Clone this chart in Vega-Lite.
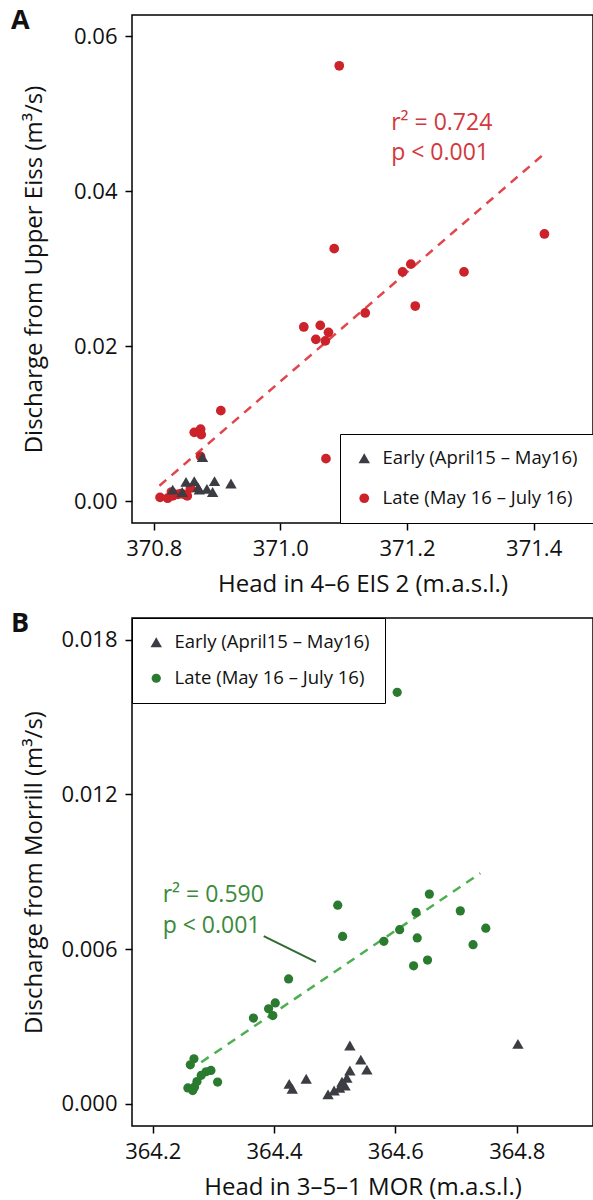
{
  "$schema": "https://vega.github.io/schema/vega-lite/v6.json",
  "background": "white",
  "padding": {"left": 10, "top": 6, "right": 0, "bottom": 0},
  "spacing": 11,
  "config": {
    "font": "Open Sans",
    "view": {"stroke": "black", "strokeWidth": 1.5},
    "axis": {
      "domain": false, "grid": false,
      "tickColor": "black", "tickSize": 7, "tickWidth": 1.5,
      "labelColor": "#111111", "labelFontSize": 22, "labelPadding": 8, "labelFont": "Open Sans",
      "titleColor": "#111111", "titleFontSize": 24, "titleFontWeight": "normal", "titleFont": "Open Sans"
    },
    "axisY": {"minExtent": 70, "maxExtent": 70, "titlePadding": 16},
    "axisX": {"titlePadding": 13},
    "legend": {
      "labelFont": "Open Sans", "labelFontSize": 18.5, "labelColor": "#111111", "labelLimit": 400,
      "padding": 15, "labelOffset": 9, "symbolSize": 110,
      "fillColor": "white", "strokeColor": "black", "offset": 0, "cornerRadius": 0,
      "symbolStrokeWidth": 0, "symbolOpacity": 1
    }
  },
  "datasets": {
    "eiss": [
      {"head": 371.093, "discharge": 0.0562, "period": "Late (May 16 – July 16)"},
      {"head": 371.085, "discharge": 0.0326, "period": "Late (May 16 – July 16)"},
      {"head": 371.417, "discharge": 0.0345, "period": "Late (May 16 – July 16)"},
      {"head": 371.193, "discharge": 0.0296, "period": "Late (May 16 – July 16)"},
      {"head": 371.206, "discharge": 0.0306, "period": "Late (May 16 – July 16)"},
      {"head": 371.290, "discharge": 0.0296, "period": "Late (May 16 – July 16)"},
      {"head": 371.213, "discharge": 0.0252, "period": "Late (May 16 – July 16)"},
      {"head": 371.134, "discharge": 0.0243, "period": "Late (May 16 – July 16)"},
      {"head": 371.037, "discharge": 0.0225, "period": "Late (May 16 – July 16)"},
      {"head": 371.063, "discharge": 0.0227, "period": "Late (May 16 – July 16)"},
      {"head": 371.076, "discharge": 0.0218, "period": "Late (May 16 – July 16)"},
      {"head": 371.056, "discharge": 0.0209, "period": "Late (May 16 – July 16)"},
      {"head": 371.071, "discharge": 0.0207, "period": "Late (May 16 – July 16)"},
      {"head": 370.906, "discharge": 0.0117, "period": "Late (May 16 – July 16)"},
      {"head": 370.864, "discharge": 0.0089, "period": "Late (May 16 – July 16)"},
      {"head": 370.874, "discharge": 0.0093, "period": "Late (May 16 – July 16)"},
      {"head": 370.875, "discharge": 0.0086, "period": "Late (May 16 – July 16)"},
      {"head": 371.072, "discharge": 0.0055, "period": "Late (May 16 – July 16)"},
      {"head": 370.874, "discharge": 0.0058, "period": "Late (May 16 – July 16)"},
      {"head": 370.810, "discharge": 0.0005, "period": "Late (May 16 – July 16)"},
      {"head": 370.822, "discharge": 0.0004, "period": "Late (May 16 – July 16)"},
      {"head": 370.830, "discharge": 0.0007, "period": "Late (May 16 – July 16)"},
      {"head": 370.838, "discharge": 0.0009, "period": "Late (May 16 – July 16)"},
      {"head": 370.848, "discharge": 0.0009, "period": "Late (May 16 – July 16)"},
      {"head": 370.853, "discharge": 0.0007, "period": "Late (May 16 – July 16)"},
      {"head": 370.858, "discharge": 0.0017, "period": "Late (May 16 – July 16)"},
      {"head": 370.828, "discharge": 0.0012, "period": "Late (May 16 – July 16)"},
      {"head": 370.843, "discharge": 0.0010, "period": "Late (May 16 – July 16)"},
      {"head": 370.830, "discharge": 0.0015, "period": "Early (April15 – May16)"},
      {"head": 370.851, "discharge": 0.0025, "period": "Early (April15 – May16)"},
      {"head": 370.864, "discharge": 0.0026, "period": "Early (April15 – May16)"},
      {"head": 370.870, "discharge": 0.0018, "period": "Early (April15 – May16)"},
      {"head": 370.872, "discharge": 0.0015, "period": "Early (April15 – May16)"},
      {"head": 370.884, "discharge": 0.0016, "period": "Early (April15 – May16)"},
      {"head": 370.893, "discharge": 0.0012, "period": "Early (April15 – May16)"},
      {"head": 370.896, "discharge": 0.0026, "period": "Early (April15 – May16)"},
      {"head": 370.922, "discharge": 0.0023, "period": "Early (April15 – May16)"},
      {"head": 370.877, "discharge": 0.0057, "period": "Early (April15 – May16)"},
      {"head": 370.845, "discharge": 0.0012, "period": "Early (April15 – May16)"}
    ],
    "morrill": [
      {"head": 364.505, "discharge": 0.00770, "period": "Late (May 16 – July 16)"},
      {"head": 364.513, "discharge": 0.00649, "period": "Late (May 16 – July 16)"},
      {"head": 364.656, "discharge": 0.00813, "period": "Late (May 16 – July 16)"},
      {"head": 364.634, "discharge": 0.00742, "period": "Late (May 16 – July 16)"},
      {"head": 364.707, "discharge": 0.00748, "period": "Late (May 16 – July 16)"},
      {"head": 364.749, "discharge": 0.00681, "period": "Late (May 16 – July 16)"},
      {"head": 364.728, "discharge": 0.00617, "period": "Late (May 16 – July 16)"},
      {"head": 364.607, "discharge": 0.00675, "period": "Late (May 16 – July 16)"},
      {"head": 364.581, "discharge": 0.00630, "period": "Late (May 16 – July 16)"},
      {"head": 364.636, "discharge": 0.00643, "period": "Late (May 16 – July 16)"},
      {"head": 364.653, "discharge": 0.00557, "period": "Late (May 16 – July 16)"},
      {"head": 364.630, "discharge": 0.00535, "period": "Late (May 16 – July 16)"},
      {"head": 364.424, "discharge": 0.00484, "period": "Late (May 16 – July 16)"},
      {"head": 364.402, "discharge": 0.00391, "period": "Late (May 16 – July 16)"},
      {"head": 364.391, "discharge": 0.00368, "period": "Late (May 16 – July 16)"},
      {"head": 364.398, "discharge": 0.00342, "period": "Late (May 16 – July 16)"},
      {"head": 364.366, "discharge": 0.00332, "period": "Late (May 16 – July 16)"},
      {"head": 364.603, "discharge": 0.01596, "period": "Late (May 16 – July 16)"},
      {"head": 364.268, "discharge": 0.00174, "period": "Late (May 16 – July 16)"},
      {"head": 364.262, "discharge": 0.00151, "period": "Late (May 16 – July 16)"},
      {"head": 364.296, "discharge": 0.00129, "period": "Late (May 16 – July 16)"},
      {"head": 364.288, "discharge": 0.00124, "period": "Late (May 16 – July 16)"},
      {"head": 364.280, "discharge": 0.00110, "period": "Late (May 16 – July 16)"},
      {"head": 364.307, "discharge": 0.00084, "period": "Late (May 16 – July 16)"},
      {"head": 364.273, "discharge": 0.00086, "period": "Late (May 16 – July 16)"},
      {"head": 364.269, "discharge": 0.00065, "period": "Late (May 16 – July 16)"},
      {"head": 364.258, "discharge": 0.00061, "period": "Late (May 16 – July 16)"},
      {"head": 364.266, "discharge": 0.00051, "period": "Late (May 16 – July 16)"},
      {"head": 364.802, "discharge": 0.00232, "period": "Early (April15 – May16)"},
      {"head": 364.525, "discharge": 0.00226, "period": "Early (April15 – May16)"},
      {"head": 364.543, "discharge": 0.00171, "period": "Early (April15 – May16)"},
      {"head": 364.553, "discharge": 0.00132, "period": "Early (April15 – May16)"},
      {"head": 364.525, "discharge": 0.00129, "period": "Early (April15 – May16)"},
      {"head": 364.520, "discharge": 0.00100, "period": "Early (April15 – May16)"},
      {"head": 364.517, "discharge": 0.00070, "period": "Early (April15 – May16)"},
      {"head": 364.499, "discharge": 0.00051, "period": "Early (April15 – May16)"},
      {"head": 364.489, "discharge": 0.00036, "period": "Early (April15 – May16)"},
      {"head": 364.453, "discharge": 0.00097, "period": "Early (April15 – May16)"},
      {"head": 364.425, "discharge": 0.00077, "period": "Early (April15 – May16)"},
      {"head": 364.430, "discharge": 0.00058, "period": "Early (April15 – May16)"},
      {"head": 364.512, "discharge": 0.00085, "period": "Early (April15 – May16)"},
      {"head": 364.508, "discharge": 0.00062, "period": "Early (April15 – May16)"}
    ],
    "fitA": [
      {"head": 370.809, "discharge": 0.0020},
      {"head": 371.416, "discharge": 0.0448}
    ],
    "fitB": [
      {"head": 364.280, "discharge": 0.00161},
      {"head": 364.740, "discharge": 0.00894}
    ],
    "labA": [
      {"head": 371.175, "discharge": 0.0479, "label": "r² = 0.724"},
      {"head": 371.175, "discharge": 0.0441, "label": "p < 0.001"}
    ],
    "labB": [
      {"head": 364.2165, "discharge": 0.00782, "label": "r² = 0.590"},
      {"head": 364.2165, "discharge": 0.00662, "label": "p < 0.001"}
    ],
    "leaderB": [
      {"head": 364.383, "discharge": 0.00650, "head2": 364.469, "discharge2": 0.00550}
    ]
  },
  "vconcat": [
    {
      "width": 461,
      "height": 508,
      "title": {"text": "A", "anchor": "start", "frame": "group", "orient": "top", "offset": 0, "dx": -121, "dy": 20, "baseline": "top", "fontSize": 27, "fontWeight": "bold", "font": "Open Sans", "color": "#111111"},
      "encoding": {
        "x": {"field": "head", "type": "quantitative", "title": "Head in 4–6 EIS 2 (m.a.s.l.)",
              "scale": {"domain": [370.7657, 371.4937], "nice": false, "zero": false},
              "axis": {"values": [370.8, 371.0, 371.2, 371.4], "format": ".1f"}},
        "y": {"field": "discharge", "type": "quantitative", "title": "Discharge from Upper Eiss (m³/s)",
              "scale": {"domain": [-0.0028, 0.06275], "nice": false, "zero": false},
              "axis": {"values": [0, 0.02, 0.04, 0.06], "format": ".2f"}}
      },
      "layer": [
        {"data": {"name": "fitA"}, "mark": {"type": "line", "color": "#e0474c", "strokeDash": [9, 7], "strokeWidth": 2.5}},
        {"data": {"name": "eiss"}, "mark": {"type": "point", "filled": true, "opacity": 1, "strokeWidth": 0},
         "encoding": {
           "color": {"field": "period", "type": "nominal",
                     "scale": {"domain": ["Early (April15 – May16)", "Late (May 16 – July 16)"], "range": ["#3b3d42", "#cc2229"]},
                     "legend": {"title": null, "orient": "bottom-right", "rowPadding": 21}},
           "shape": {"field": "period", "type": "nominal",
                     "scale": {"domain": ["Early (April15 – May16)", "Late (May 16 – July 16)"], "range": ["triangle-up", "circle"]},
                     "legend": {"title": null, "orient": "bottom-right", "rowPadding": 21}},
           "size": {"field": "period", "type": "nominal",
                    "scale": {"domain": ["Early (April15 – May16)", "Late (May 16 – July 16)"], "range": [130, 95]},
                    "legend": null}
         }},
        {"data": {"name": "labA"}, "mark": {"type": "text", "align": "left", "baseline": "alphabetic", "fontSize": 23, "color": "#d2383d", "font": "Open Sans"},
         "encoding": {"text": {"field": "label", "type": "nominal"}}}
      ]
    },
    {
      "width": 461,
      "height": 508,
      "title": {"text": "B", "anchor": "start", "frame": "group", "orient": "top", "offset": 0, "dx": -121, "dy": 20, "baseline": "top", "fontSize": 27, "fontWeight": "bold", "font": "Open Sans", "color": "#111111"},
      "encoding": {
        "x": {"field": "head", "type": "quantitative", "title": "Head in 3–5–1 MOR (m.a.s.l.)",
              "scale": {"domain": [364.1659, 364.9257], "nice": false, "zero": false},
              "axis": {"values": [364.2, 364.4, 364.6, 364.8], "format": ".1f"}},
        "y": {"field": "discharge", "type": "quantitative", "title": "Discharge from Morrill (m³/s)",
              "scale": {"domain": [-0.000865, 0.018841], "nice": false, "zero": false},
              "axis": {"values": [0, 0.006, 0.012, 0.018], "format": ".3f"}}
      },
      "layer": [
        {"data": {"name": "fitB"}, "mark": {"type": "line", "color": "#4caf50", "strokeDash": [9, 7], "strokeWidth": 2.5}},
        {"data": {"name": "leaderB"}, "mark": {"type": "rule", "color": "#2e6b30", "strokeWidth": 2},
         "encoding": {"x2": {"field": "head2"}, "y2": {"field": "discharge2"}}},
        {"data": {"name": "morrill"}, "mark": {"type": "point", "filled": true, "opacity": 1, "strokeWidth": 0},
         "encoding": {
           "color": {"field": "period", "type": "nominal",
                     "scale": {"domain": ["Early (April15 – May16)", "Late (May 16 – July 16)"], "range": ["#3b3d42", "#2a7a2f"]},
                     "legend": {"title": null, "orient": "top-left", "rowPadding": 17}},
           "shape": {"field": "period", "type": "nominal",
                     "scale": {"domain": ["Early (April15 – May16)", "Late (May 16 – July 16)"], "range": ["triangle-up", "circle"]},
                     "legend": {"title": null, "orient": "top-left", "rowPadding": 17}},
           "size": {"field": "period", "type": "nominal",
                    "scale": {"domain": ["Early (April15 – May16)", "Late (May 16 – July 16)"], "range": [130, 85]},
                    "legend": null}
         }},
        {"data": {"name": "labB"}, "mark": {"type": "text", "align": "left", "baseline": "alphabetic", "fontSize": 23, "color": "#3a8a3a", "font": "Open Sans"},
         "encoding": {"text": {"field": "label", "type": "nominal"}}}
      ]
    }
  ],
  "resolve": {
    "scale": {"color": "independent", "shape": "independent", "size": "independent"},
    "legend": {"color": "independent", "shape": "independent"}
  }
}
